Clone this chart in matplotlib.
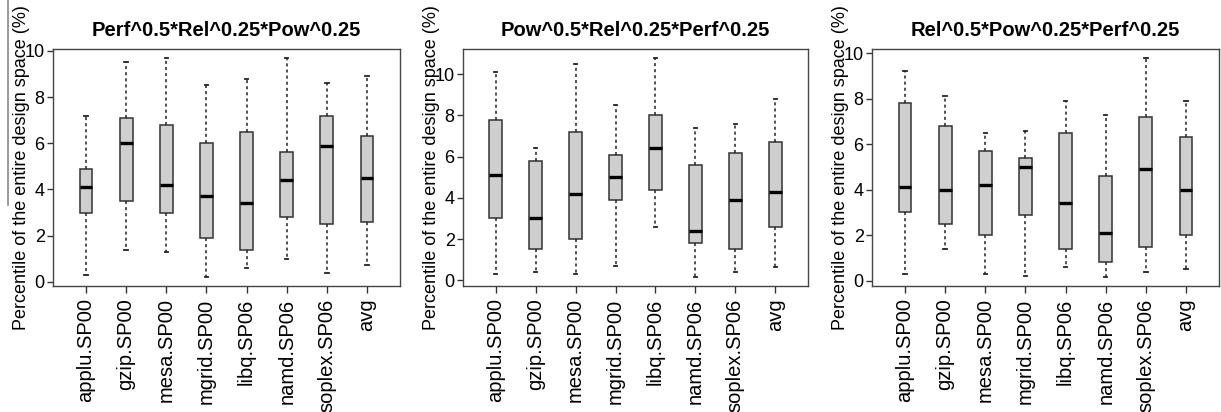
import matplotlib
matplotlib.use("Agg")
import matplotlib.pyplot as plt
from matplotlib.lines import Line2D

plt.rcParams['font.family'] = ['Liberation Sans', 'DejaVu Sans']

categories = ["applu.SP00", "gzip.SP00", "mesa.SP00", "mgrid.SP00",
              "libq.SP06", "namd.SP06", "soplex.SP06", "avg"]

titles = ["Perf^0.5*Rel^0.25*Pow^0.25",
          "Pow^0.5*Rel^0.25*Perf^0.25",
          "Rel^0.5*Pow^0.25*Perf^0.25"]

# Panel 1: Perf^0.5*Rel^0.25*Pow^0.25
p1_low = [0.3, 1.4, 1.3, 0.2, 0.6, 1.0, 0.4, 0.75]
p1_q1 = [3.0, 3.5, 3.0, 1.9, 1.4, 2.8, 2.5, 2.6]
p1_med = [4.1, 6.0, 4.2, 3.7, 3.4, 4.4, 5.9, 4.5]
p1_q3 = [4.9, 7.1, 6.8, 6.0, 6.5, 5.6, 7.2, 6.3]
p1_high = [7.2, 9.5, 9.7, 8.5, 8.8, 9.7, 8.6, 8.9]

# Panel 2: Pow^0.5*Rel^0.25*Perf^0.25
p2_low = [0.3, 0.4, 0.3, 0.7, 2.6, 0.15, 0.4, 0.65]
p2_q1 = [3.0, 1.5, 2.0, 3.9, 4.4, 1.8, 1.5, 2.6]
p2_med = [5.1, 3.0, 4.2, 5.0, 6.4, 2.4, 3.9, 4.3]
p2_q3 = [7.8, 5.8, 7.2, 6.1, 8.0, 5.6, 6.2, 6.7]
p2_high = [10.1, 6.4, 10.5, 8.5, 10.8, 7.4, 7.6, 8.8]

# Panel 3: Rel^0.5*Pow^0.25*Perf^0.25
p3_low = [0.3, 1.4, 0.3, 0.2, 0.6, 0.15, 0.4, 0.5]
p3_q1 = [3.0, 2.5, 2.0, 2.9, 1.4, 0.8, 1.5, 2.0]
p3_med = [4.1, 4.0, 4.2, 5.0, 3.4, 2.1, 4.9, 4.0]
p3_q3 = [7.8, 6.8, 5.7, 5.4, 6.5, 4.6, 7.2, 6.3]
p3_high = [9.2, 8.1, 6.5, 6.6, 7.9, 7.3, 9.8, 7.9]

yticks = [0, 2, 4, 6, 8, 10]
ylabel = "Percentile of the entire design space (%)"

panels = [
    (p1_low, p1_q1, p1_med, p1_q3, p1_high),
    (p2_low, p2_q1, p2_med, p2_q3, p2_high),
    (p3_low, p3_q1, p3_med, p3_q3, p3_high),
]

fig = plt.figure(figsize=(12.21, 4.12), dpi=100)
W, H = 1221.0, 412.0
boxes_px = [(53, 400), (463, 808), (872, 1219)]
top_px, bot_px = 49, 286

for i, ((l, r), data) in enumerate(zip(boxes_px, panels)):
    ax = fig.add_axes([l / W, 1 - bot_px / H, (r - l) / W, (bot_px - top_px) / H])
    low, q1, med, q3, high = data
    stats = []
    for k in range(len(categories)):
        stats.append(dict(whislo=low[k], q1=q1[k], med=med[k], q3=q3[k],
                          whishi=high[k], fliers=[], label=categories[k]))
    ax.bxp(stats, positions=range(1, len(categories) + 1), widths=0.32,
           patch_artist=True, showfliers=False, capwidths=0.08,
           boxprops=dict(facecolor='#cfcfcf', edgecolor='#333333', linewidth=1.1),
           medianprops=dict(color='black', linewidth=2.4, solid_capstyle='butt'),
           whiskerprops=dict(color='#222222', linewidth=1.1, linestyle=(0, (2, 2))),
           capprops=dict(color='#222222', linewidth=1.3))
    ax.set_xlim(0.18, 8.82)
    ax.margins(y=0.04)
    ax.set_yticks(yticks)
    ax.set_xticks(range(1, len(categories) + 1))
    ax.set_xticklabels(categories, rotation=90, fontsize=14.5, va='top', ha='center')
    ax.tick_params(axis='y', labelsize=13, length=4, width=1, color='#333333', pad=2)
    ax.tick_params(axis='x', length=5, width=1, color='#333333', pad=4)
    for sp in ax.spines.values():
        sp.set_color('#444444')
        sp.set_linewidth(1.0)
    ax.set_title(titles[i], fontsize=14.5, fontweight='bold', pad=9)
    ax.set_ylabel(ylabel, fontsize=13)
    ax.yaxis.set_label_coords(-0.066, 0.5)

fig.add_artist(Line2D([8 / W, 8 / W], [1.0, 1 - 205 / H], color='#888888', linewidth=1.2))

fig.savefig("out.png", dpi=100)
